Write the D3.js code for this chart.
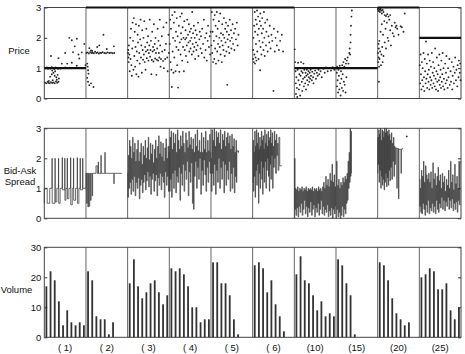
<!DOCTYPE html>
<html>
<head>
<meta charset="utf-8" />
<title>Price, spread and volume by session</title>
<style>
body { margin: 0; background: #fff; }
#graph {
    width: 465px;
    height: 354px;
    font-family: "Liberation Sans", Arial, sans-serif;
}
.tick line { stroke: #333; }
.tick text { font-size: 9.5px; fill: #111; }
.frame { fill: none; stroke: #444; stroke-width: 1; }
.divider { stroke: #666; stroke-width: 1; }
.label { font-size: 9.5px; fill: #111; }
</style>
</head>
<body>
<div id="graph"></div>
<script src="https://cdnjs.cloudflare.com/ajax/libs/d3/7.8.5/d3.min.js"></script>
<script>
// sessions along the x axis, 10 periods each
var sessions = ["( 1)", "( 2)", "( 3)", "( 4)", "( 5)", "( 6)", "(10)", "(15)", "(20)", "(25)"]
var equilibrium = [1, 3, 3, 3, 3, 3, 1, 1, 3, 2]
var priceTicks = [0, 1, 2, 3]
var spreadTicks = [0, 1, 2, 3]
var volumeTicks = [0, 10, 20, 30]

// volume per period within each session
var volume = [
    [17, 22, 19, 12, 4, 9, 5, 4, 5, 4],
    [22, 19, 7, 6, 6, 1, 5],
    [18, 26, 17, 13, 15, 18, 19, 15, 11, 14],
    [23, 22, 23, 21, 17, 10, 10, 5, 6, 6],
    [25, 25, 18, 18, 14, 6, 1],
    [24, 25, 23, 15, 19, 11, 7, 2],
    [21, 27, 19, 18, 14, 9, 12, 7, 8, 7],
    [26, 24, 18, 14, 1],
    [25, 24, 19, 13, 8, 6, 4, 5],
    [20, 21, 23, 22, 16, 16, 18, 9, 6, 10]
]

// transaction prices [period within session, price]
var prices = [
    [[0.3,1.0],[0.6,1.02],[0.9,0.98],[1.2,1.01],[1.5,0.99],[1.8,1.03],[2.1,1.0],[2.4,0.97],[2.7,1.02],[3.0,1.0],[3.3,0.98],[3.6,1.01],[3.9,0.99],[4.4,1.0],[5.0,1.02],[6.2,1.0],[7.5,1.01],
     [0.2,0.52],[0.5,0.5],[0.8,0.55],[1.0,0.52],[1.3,0.5],[1.6,0.54],[1.9,0.51],[2.2,0.53],[2.5,0.5],[2.8,0.56],[3.1,0.52],[3.4,0.55],[1.1,0.58],[2.0,0.6],
     [1.4,0.72],[1.8,0.8],[2.2,0.85],[2.5,0.75],[2.9,0.7],[3.2,0.78],[1.9,0.92],[2.6,0.9],[3.5,0.66],[3.0,0.62],
     [1.6,1.4],[3.4,1.33],[5.0,1.5],[5.5,1.15],[6.0,2.0],[6.6,1.92],[7.8,1.97],[7.3,1.72],[6.6,1.18],[6.9,1.53],[8.4,1.32],[9.0,1.52],[9.6,1.8],[7.8,1.08],[9.9,1.1],[4.2,1.15],[8.2,1.45]],
    [[0.1,1.5],[0.4,1.52],[0.7,1.48],[1.0,1.53],[1.3,1.5],[1.6,1.51],[1.9,1.49],[2.2,1.54],[2.5,1.5],[2.8,1.52],[3.1,1.48],[3.4,1.51],[3.7,1.5],[4.0,1.53],[4.4,1.5],[4.8,1.49],[5.2,1.52],[5.6,1.5],[6.0,1.51],[6.4,1.49],[6.8,1.5],[1.2,1.58],
     [0.3,1.15],[0.5,0.93],[0.6,0.82],[0.3,0.68],[0.5,0.55],[1.2,0.5],[1.8,0.38],[0.8,0.44],[0.4,1.05],
     [2.7,1.7],[3.2,1.75],[4.2,2.1],[5.0,1.63],[6.7,1.72],[0.8,1.66],[1.5,1.57]],
    [[0.1,1.5],[0.2,1.35],[0.15,1.6],[0.3,1.75],[0.25,1.2],[0.4,1.45],[0.5,0.9],[0.6,2.0],[0.7,1.3],[0.8,2.3],[0.9,1.1],[1.0,0.75],[1.1,1.65],[1.2,2.5],[1.3,1.9],[1.4,0.95],[1.5,2.65],[1.6,1.4],[1.7,2.2],[1.8,1.05],[1.9,1.7],[2.0,2.45],[2.1,0.8],[2.2,1.55],[2.3,1.25],[2.4,2.1],[2.5,1.85],[2.6,0.72],[2.7,2.4],[2.8,1.5],[2.9,1.15],[3.0,1.95],[3.1,2.6],[3.2,1.35],[3.3,1.75],[3.4,0.85],[3.5,2.25],[3.6,1.6],[3.7,1.28],[3.8,2.0],[3.9,1.45],[4.0,2.55],[4.1,1.2],[4.2,1.7],[4.3,0.95],[4.4,1.55],[4.5,2.3],[4.6,1.33],[4.7,1.85],[4.8,1.6],[4.9,2.05],[5.0,1.25],[5.1,1.5],[5.2,1.75],[5.3,2.6],[5.4,1.38],[5.5,1.6],[5.6,1.9],[5.7,0.8],[5.8,1.27],[5.9,2.2],[6.0,1.55],[6.1,1.7],[6.2,1.22],[6.3,2.45],[6.4,1.6],[6.5,1.8],[6.6,1.32],[6.7,2.0],[6.8,1.5],[6.9,0.78],[7.0,1.28],[7.1,1.65],[7.2,2.3],[7.3,1.25],[7.4,1.9],[7.5,1.5],[7.6,1.35],[7.7,2.6],[7.8,1.75],[7.9,1.05],[8.0,1.3],[8.2,2.05],[8.3,1.55],[8.5,1.24],[8.6,2.35],[8.7,1.0],[8.9,1.6],[9.0,1.3],[9.2,1.8],[9.3,2.5],[9.5,1.35],[9.6,0.9],[9.8,2.1],[9.9,1.5]],
    [[0.1,1.8],[0.2,2.6],[0.3,1.2],[0.4,2.3],[0.5,0.95],[0.6,0.38],[0.7,2.75],[0.8,1.55],[0.9,2.0],[1.0,0.85],[1.1,2.5],[1.2,1.35],[1.3,2.85],[1.4,1.9],[1.5,0.9],[1.6,2.2],[1.7,1.7],[1.8,2.65],[1.9,1.1],[2.0,2.05],[2.1,0.36],[2.2,1.6],[2.3,2.4],[2.4,0.88],[2.5,1.85],[2.6,2.7],[2.7,1.45],[2.8,2.15],[2.9,1.95],[3.0,2.8],[3.1,1.25],[3.2,2.35],[3.3,1.7],[3.4,2.0],[3.5,0.9],[3.6,2.55],[3.7,1.6],[3.8,1.95],[3.9,2.25],[4.0,1.4],[4.1,2.0],[4.2,1.75],[4.3,2.6],[4.4,1.2],[4.5,2.1],[4.6,1.85],[4.7,2.45],[4.8,1.55],[4.9,2.2],[5.0,1.9],[5.1,1.65],[5.2,2.3],[5.3,2.0],[5.4,1.45],[5.5,2.85],[5.6,1.8],[5.7,2.15],[5.8,1.55],[5.9,2.4],[6.0,1.7],[6.1,2.0],[6.2,1.3],[6.3,2.25],[6.4,1.85],[6.5,1.6],[6.6,2.1],[6.8,1.75],[6.9,2.5],[7.0,1.4],[7.2,1.95],[7.3,2.2],[7.5,1.65],[7.6,2.05],[7.8,1.5],[7.9,2.3],[8.1,1.8],[8.3,2.6],[8.4,1.35],[8.6,2.0],[8.7,1.6],[8.9,2.15],[9.0,1.25],[9.2,1.9],[9.3,2.4],[9.5,1.7],[9.7,2.05],[9.8,1.45],[9.9,2.2]],
    [[0.1,1.75],[0.2,2.85],[0.3,1.5],[0.4,2.2],[0.5,1.2],[0.6,2.6],[0.7,1.9],[0.8,1.3],[0.9,2.75],[1.0,1.65],[1.1,2.4],[1.2,1.15],[1.3,2.05],[1.4,2.85],[1.5,1.55],[1.6,2.3],[1.7,1.8],[1.8,1.25],[1.9,2.55],[2.0,2.0],[2.1,1.7],[2.2,2.8],[2.3,1.45],[2.4,2.15],[2.5,1.9],[2.6,1.2],[2.7,2.45],[2.8,1.75],[2.9,2.1],[3.0,1.6],[3.1,2.65],[3.2,2.0],[3.3,1.4],[3.4,2.3],[3.5,1.85],[3.6,2.5],[3.7,1.55],[3.8,2.2],[3.9,0.45],[4.0,1.95],[4.1,2.4],[4.2,1.7],[4.3,2.1],[4.4,1.5],[4.5,2.6],[4.6,1.9],[4.8,2.25],[4.9,1.65],[5.0,2.0],[5.2,2.45],[5.3,1.8],[5.5,2.15],[5.6,1.6],[5.8,2.3],[6.0,1.95],[6.2,2.5],[6.4,1.75],[6.6,2.1]],
    [[0.1,1.3],[0.15,1.6],[0.2,2.0],[0.3,1.2],[0.35,2.4],[0.4,1.45],[0.5,2.85],[0.55,1.15],[0.6,2.2],[0.7,1.35],[0.75,2.6],[0.8,1.8],[0.9,1.25],[1.0,2.45],[1.05,2.9],[1.1,1.55],[1.2,2.1],[1.3,2.7],[1.4,1.3],[1.5,2.3],[1.6,1.9],[1.7,2.55],[1.8,0.93],[1.85,2.8],[1.9,1.7],[2.0,2.4],[2.1,1.45],[2.2,2.15],[2.3,2.65],[2.4,1.85],[2.5,2.3],[2.6,1.6],[2.7,2.85],[2.8,2.0],[2.9,1.4],[3.0,2.5],[3.2,1.75],[3.3,2.2],[3.5,2.6],[3.6,1.55],[3.8,2.05],[4.0,1.85],[4.1,2.4],[4.3,1.65],[4.5,2.1],[4.7,1.9],[5.0,0.25],[5.1,2.3],[5.3,1.55],[5.5,2.0],[5.8,1.75],[6.0,2.2],[6.3,1.6],[6.6,1.9],[7.0,2.1],[7.3,1.55]],
    [[0.1,1.62],[0.2,1.2],[0.3,0.9],[0.35,0.5],[0.4,0.15],[0.5,0.7],[0.6,0.35],[0.7,0.05],[0.8,0.95],[0.9,1.18],[1.0,0.6],[1.1,0.3],[1.2,0.8],[1.3,0.45],[1.4,0.1],[1.5,0.75],[1.6,1.2],[1.7,0.9],[1.8,0.55],[1.9,0.25],[2.0,0.85],[2.1,0.65],[2.2,1.15],[2.3,0.4],[2.4,0.95],[2.5,0.7],[2.6,0.5],[2.7,0.85],[2.8,0.3],[2.9,0.75],[3.0,0.95],[3.1,0.6],[3.2,0.8],[3.3,0.45],[3.4,0.9],[3.5,0.7],[3.6,0.55],[3.7,0.85],[3.8,0.65],[3.9,0.95],[4.0,0.75],[4.2,0.6],[4.3,0.88],[4.5,0.7],[4.6,0.5],[4.8,0.82],[5.0,0.92],[5.2,0.65],[5.4,0.85],[5.6,0.75],[5.8,0.95],[6.0,0.8],[6.3,0.9],[6.6,0.7],[7.0,0.98],[7.3,0.85],[7.6,1.02],[8.0,0.9],[8.4,1.0],[8.8,0.92],[9.2,1.03],[9.6,0.95],[9.9,1.0]],
    [[0.1,1.0],[0.2,0.85],[0.25,0.4],[0.3,1.05],[0.4,0.6],[0.5,0.2],[0.6,0.95],[0.7,0.75],[0.8,0.3],[0.9,1.08],[1.0,0.5],[1.1,0.1],[1.2,0.9],[1.3,0.65],[1.4,0.35],[1.5,1.1],[1.6,0.8],[1.7,0.25],[1.8,1.2],[1.9,0.55],[2.0,1.05],[2.1,0.45],[2.2,1.3],[2.3,0.2],[2.4,1.15],[2.5,0.7],[2.6,1.25],[2.7,1.0],[2.8,1.35],[3.0,1.15],[3.2,1.5],[3.3,1.65],[3.4,1.45],[3.5,1.85],[3.5,2.1],[3.6,2.4],[3.7,2.7],[3.8,2.9]],
    [[0.05,2.95],[0.15,2.9],[0.25,2.97],[0.35,2.88],[0.45,2.93],[0.55,2.85],[0.7,2.95],[0.85,2.9],[1.0,2.8],[1.2,2.92],[1.4,2.85],[1.7,2.75],[2.0,2.72],[2.3,2.78],[2.6,2.7],[3.0,2.75],[0.1,1.5],[0.15,1.2],[0.2,1.8],[0.25,1.35],[0.3,1.65],[0.35,1.05],[0.4,1.9],[0.45,1.3],[0.3,0.55],[0.6,1.55],[0.7,2.2],[0.8,1.1],[0.9,1.45],[1.0,2.45],[1.1,1.7],[1.2,1.2],[1.3,2.1],[1.4,1.4],[1.6,2.55],[1.7,1.85],[1.9,2.3],[2.0,1.65],[2.2,2.5],[2.4,2.0],[2.6,1.9],[2.8,2.6],[3.0,2.25],[3.2,1.75],[3.4,2.4],[3.6,2.15],[3.9,2.05],[4.1,2.5],[4.3,2.35],[4.5,2.4],[4.7,2.3],[5.0,2.1],[5.5,2.38],[5.8,2.35],[6.2,2.2],[6.5,2.8]],
    [[0.1,1.1],[0.2,0.5],[0.3,1.45],[0.4,0.8],[0.5,0.3],[0.6,1.2],[0.7,0.6],[0.8,1.0],[0.9,0.4],[1.0,1.5],[1.1,0.7],[1.2,0.25],[1.3,1.3],[1.4,0.9],[1.5,0.5],[1.6,1.88],[1.7,0.65],[1.8,1.15],[1.9,0.35],[2.0,0.8],[2.1,1.45],[2.2,0.55],[2.3,0.95],[2.4,0.3],[2.5,1.25],[2.6,0.7],[2.7,0.45],[2.8,1.05],[2.9,0.6],[3.0,1.5],[3.1,0.35],[3.2,0.85],[3.3,1.2],[3.4,0.5],[3.5,0.75],[3.6,1.0],[3.7,0.4],[3.8,1.65],[3.9,0.65],[4.0,0.3],[4.1,0.9],[4.2,1.35],[4.3,0.55],[4.4,0.8],[4.5,0.25],[4.6,1.1],[4.7,0.6],[4.8,1.45],[4.9,0.45],[5.0,0.7],[5.1,0.95],[5.2,0.35],[5.3,1.25],[5.4,0.55],[5.5,0.8],[5.6,1.5],[5.7,0.4],[5.8,1.0],[5.9,0.65],[6.0,0.3],[6.2,1.15],[6.3,0.5],[6.4,0.85],[6.5,1.4],[6.6,0.6],[6.8,0.35],[6.9,1.0],[7.0,0.7],[7.2,1.3],[7.3,0.45],[7.5,0.9],[7.6,0.55],[7.8,1.2],[7.9,0.3],[8.0,0.75],[8.2,1.05],[8.3,0.5],[8.5,0.85],[8.6,1.35],[8.8,0.6],[8.9,0.95],[9.1,0.4],[9.2,1.1],[9.4,0.7],[9.5,1.25],[9.7,0.85],[9.8,1.15],[9.9,0.6]]
]

// bid-ask quote path [period within session, value]
var spreads = [
    [[0,0.5],[0,1.0],[0.7,1.0],[0.7,0.5],[1.3,0.5],[1.3,1.0],[1.85,1.0],[1.85,2.0],[1.9,2.0],[1.9,0.5],[2.57,0.5],[2.57,2.0],[2.62,2.0],[2.62,0.55],[3.0,0.55],[3.0,1.0],[3.4,1.0],[3.4,2.0],[3.45,2.0],[3.45,0.5],[3.8,0.5],[3.8,1.0],[4.3,1.0],[4.3,2.02],[4.35,2.02],[4.35,0.95],[4.9,0.95],[4.9,2.0],[4.95,2.0],[4.95,0.6],[5.2,0.6],[5.2,1.0],[5.5,1.0],[5.5,2.0],[5.55,2.0],[5.55,0.65],[5.9,0.65],[5.9,1.0],[6.3,1.0],[6.3,2.02],[6.35,2.02],[6.35,0.45],[6.7,0.45],[6.7,1.0],[7.0,1.0],[7.0,2.0],[7.05,2.0],[7.05,0.6],[7.5,0.6],[7.5,1.0],[7.9,1.0],[7.9,2.02],[7.95,2.02],[7.95,0.5],[8.3,0.5],[8.3,1.0],[8.6,1.0],[8.6,2.0],[8.65,2.0],[8.65,0.95],[9.2,0.95],[9.2,2.0],[9.25,2.0],[9.25,1.0],[10,1.0]],
    [[0.0,1.0],[0.0,1.5],[0.15,1.5],[0.15,0.5],[0.3,0.5],[0.3,1.5],[0.45,1.5],[0.45,0.38],[0.6,0.38],[0.6,1.5],[0.75,1.5],[0.75,0.4],[0.9,0.4],[0.9,1.5],[1.1,1.5],[1.1,0.6],[1.25,0.6],[1.25,1.5],[1.5,1.5],[1.5,0.75],[1.6,0.75],[1.6,1.5],[2.4,1.5],[2.4,1.75],[2.7,1.75],[2.7,1.5],[2.95,1.5],[2.95,1.88],[3.0,1.88],[3.0,1.5],[3.6,1.5],[3.6,2.1],[3.65,2.1],[3.65,1.5],[4.55,1.5],[4.55,2.2],[4.6,2.2],[4.6,1.5],[6.7,1.5],[6.7,1.15],[6.75,1.15],[6.75,1.5],[8.6,1.5]],
    [[0.0,1.5],[0.05,0.7],[0.2,2.1],[0.3,1.0],[0.45,2.6],[0.55,1.2],[0.7,2.4],[0.8,0.8],[0.95,2.0],[1.05,1.3],[1.2,2.7],[1.3,0.9],[1.45,2.2],[1.55,1.4],[1.7,2.5],[1.8,0.75],[1.95,1.9],[2.05,1.2],[2.2,2.3],[2.3,1.0],[2.45,2.6],[2.55,1.35],[2.7,1.9],[2.8,0.65],[2.95,2.2],[3.05,1.1],[3.2,2.5],[3.3,1.3],[3.45,1.8],[3.55,0.85],[3.7,2.4],[3.8,1.2],[3.95,2.1],[4.05,1.45],[4.2,2.6],[4.3,0.95],[4.45,2.0],[4.55,1.25],[4.7,2.35],[4.8,1.55],[4.95,2.7],[5.05,1.05],[5.2,1.95],[5.3,1.4],[5.45,2.5],[5.55,0.8],[5.7,2.15],[5.8,1.3],[5.95,2.45],[6.05,1.5],[6.2,1.85],[6.3,0.9],[6.45,2.3],[6.55,1.25],[6.7,2.6],[6.8,1.45],[6.95,2.0],[7.05,0.75],[7.2,2.4],[7.3,1.35],[7.45,2.75],[7.55,1.1],[7.7,2.15],[7.8,1.5],[7.95,2.55],[8.05,0.95],[8.2,2.05],[8.3,1.4],[8.45,2.5],[8.55,1.2],[8.7,1.9],[8.8,0.7],[8.95,2.35],[9.05,1.55],[9.2,2.65],[9.3,1.1],[9.45,2.0],[9.55,1.4],[9.7,2.4],[9.8,0.9],[9.95,2.2]],
    [[0.0,2.4],[0.1,0.9],[0.2,2.7],[0.3,1.3],[0.45,2.9],[0.55,0.7],[0.7,2.3],[0.8,1.5],[0.95,2.85],[1.05,1.0],[1.2,2.5],[1.3,1.6],[1.45,2.8],[1.55,0.85],[1.7,2.2],[1.8,1.4],[1.95,2.95],[2.05,1.2],[2.2,2.6],[2.3,1.7],[2.45,2.3],[2.55,0.6],[2.7,2.75],[2.8,1.5],[2.95,2.4],[3.05,1.1],[3.2,2.9],[3.3,1.8],[3.45,2.5],[3.55,0.9],[3.7,2.2],[3.8,1.6],[3.95,2.85],[4.05,1.3],[4.2,2.6],[4.3,1.9],[4.45,2.35],[4.55,0.75],[4.7,2.9],[4.8,1.55],[4.95,2.45],[5.05,1.2],[5.2,2.7],[5.3,1.85],[5.45,2.3],[5.55,0.5],[5.7,2.65],[5.8,0.3],[5.95,2.2],[6.05,1.4],[6.2,2.8],[6.3,1.9],[6.45,2.4],[6.55,1.0],[6.7,2.95],[6.8,1.7],[6.95,2.25],[7.05,1.3],[7.2,2.6],[7.3,2.0],[7.45,2.2],[7.55,0.8],[7.7,2.85],[7.8,1.6],[7.95,2.2],[8.05,1.1],[8.2,2.7],[8.3,1.95],[8.45,2.3],[8.55,1.45],[8.7,2.9],[8.8,0.9],[8.95,2.2],[9.05,1.7],[9.2,2.6],[9.3,1.2],[9.45,2.25],[9.55,1.9],[9.7,2.8],[9.8,1.5],[9.95,2.2]],
    [[0.0,2.0],[0.1,0.9],[0.25,2.95],[0.35,1.5],[0.5,2.6],[0.6,1.1],[0.75,3.0],[0.85,1.8],[1.0,2.4],[1.1,0.8],[1.25,2.9],[1.35,1.6],[1.5,2.7],[1.6,1.2],[1.75,2.85],[1.85,2.0],[2.0,2.5],[2.1,1.0],[2.25,2.95],[2.35,1.7],[2.5,2.3],[2.6,1.3],[2.75,2.8],[2.85,1.9],[3.0,2.6],[3.1,0.85],[3.25,2.9],[3.35,1.8],[3.5,2.4],[3.6,1.1],[3.75,2.7],[3.85,1.6],[4.0,2.85],[4.1,1.3],[4.25,2.5],[4.35,1.9],[4.5,2.75],[4.6,0.9],[4.75,2.3],[4.85,1.5],[5.0,2.8],[5.1,1.0],[5.25,2.4],[5.35,1.7],[5.5,2.65],[5.6,0.85],[5.75,2.2],[5.85,1.4],[6.0,2.6],[6.1,1.2],[6.2,2.25],[6.5,2.2],[6.6,2.25]],
    [[0.0,1.2],[0.1,2.6],[0.2,0.9],[0.3,2.2],[0.4,1.4],[0.5,2.9],[0.6,0.7],[0.7,2.4],[0.8,1.6],[0.9,2.95],[1.0,1.1],[1.1,2.5],[1.2,1.8],[1.3,2.85],[1.4,0.5],[1.5,2.3],[1.6,1.5],[1.7,2.7],[1.8,1.0],[1.9,2.4],[2.0,1.9],[2.1,2.9],[2.2,1.3],[2.3,2.6],[2.4,0.8],[2.5,2.75],[2.6,1.7],[2.7,2.3],[2.8,1.2],[2.9,2.95],[3.0,1.9],[3.1,2.5],[3.2,1.0],[3.3,2.8],[3.4,1.6],[3.5,2.4],[3.6,2.0],[3.7,2.9],[3.8,1.4],[3.9,2.6],[4.0,0.9],[4.1,2.7],[4.2,1.8],[4.3,2.95],[4.4,1.3],[4.5,2.5],[4.6,2.1],[4.7,2.85],[4.8,1.0],[4.9,2.4],[5.0,1.7],[5.2,2.9],[5.3,2.0],[5.4,2.6],[5.5,1.5],[5.7,2.8],[5.8,2.1],[6.0,2.5],[6.1,1.6],[6.3,2.7],[6.5,1.75],[7.0,1.75]],
    [[0.05,0.0],[0.1,2.0],[0.15,0.3],[0.3,1.0],[0.4,0.1],[0.55,0.95],[0.65,0.35],[0.8,1.05],[0.9,0.05],[1.05,0.9],[1.15,0.4],[1.3,1.0],[1.4,0.2],[1.55,0.95],[1.65,0.5],[1.8,1.05],[1.9,0.1],[2.05,0.9],[2.15,0.3],[2.3,1.0],[2.4,0.6],[2.55,0.95],[2.65,0.15],[2.8,1.05],[2.9,0.4],[3.05,0.9],[3.15,0.05],[3.3,1.0],[3.4,0.35],[3.55,0.95],[3.65,0.2],[3.8,1.0],[3.9,0.55],[4.05,0.95],[4.15,0.1],[4.3,1.05],[4.4,0.3],[4.55,0.9],[4.65,0.45],[4.8,1.0],[4.9,0.05],[5.05,0.95],[5.15,0.35],[5.3,1.0],[5.4,0.2],[5.55,0.9],[5.65,0.5],[5.8,1.05],[5.9,0.1],[6.05,0.95],[6.15,0.3],[6.3,1.0],[6.4,0.6],[6.55,0.9],[6.65,0.15],[6.8,1.05],[6.9,0.4],[7.05,1.2],[7.15,0.1],[7.3,1.0],[7.4,0.3],[7.55,1.4],[7.65,0.2],[7.8,1.1],[7.9,0.45],[8.05,1.3],[8.15,0.05],[8.3,1.05],[8.4,0.25],[8.55,1.5],[8.65,0.1],[8.8,1.25],[8.9,0.35],[9.05,1.8],[9.15,0.0],[9.3,1.2],[9.4,0.3],[9.55,1.45],[9.65,0.15],[9.8,1.05],[9.9,0.4]],
    [[0.1,0.0],[0.15,1.9],[0.25,0.3],[0.4,1.1],[0.5,0.05],[0.65,1.3],[0.75,0.2],[0.9,1.0],[1.0,0.0],[1.15,1.2],[1.25,0.1],[1.4,1.1],[1.5,0.4],[1.65,1.35],[1.75,0.05],[1.9,1.2],[2.0,0.3],[2.15,1.4],[2.25,0.15],[2.4,1.3],[2.5,0.5],[2.65,1.5],[2.75,0.6],[2.9,1.9],[3.0,1.0],[3.15,2.2],[3.25,1.2],[3.4,3.0],[3.5,1.4],[3.6,2.9],[3.7,1.5]],
    [[0.0,1.5],[0.05,2.7],[0.15,1.8],[0.25,2.95],[0.35,1.2],[0.45,2.8],[0.55,1.6],[0.65,3.0],[0.75,1.0],[0.85,2.6],[0.95,1.4],[1.05,2.95],[1.15,1.1],[1.25,2.9],[1.35,1.3],[1.45,2.7],[1.55,0.95],[1.65,3.0],[1.75,1.2],[1.85,2.85],[1.95,1.5],[2.05,3.0],[2.15,1.05],[2.25,2.9],[2.35,1.35],[2.45,2.75],[2.55,1.1],[2.65,2.95],[2.75,1.6],[2.85,2.8],[2.95,1.25],[3.05,2.6],[3.15,1.7],[3.3,2.85],[3.4,1.3],[3.55,2.5],[3.65,1.9],[3.8,2.7],[3.9,1.4],[4.05,2.4],[4.15,1.8],[4.3,2.35],[4.5,2.33],[4.6,1.0],[4.7,2.33],[4.9,2.33],[5.0,0.65],[5.1,2.3],[5.5,2.3],[5.6,1.5],[5.7,2.3],[5.9,2.35]],
    [[0.05,1.3],[0.15,0.4],[0.25,1.0],[0.35,0.2],[0.5,1.6],[0.6,0.15],[0.75,1.4],[0.85,0.5],[1.0,1.9],[1.1,0.3],[1.25,1.2],[1.35,0.1],[1.5,1.75],[1.6,0.45],[1.75,1.45],[1.85,0.2],[2.0,1.3],[2.1,0.6],[2.25,1.5],[2.35,0.15],[2.5,1.2],[2.6,0.35],[2.75,1.55],[2.85,0.25],[3.0,1.0],[3.1,0.5],[3.25,1.85],[3.35,0.2],[3.5,1.3],[3.6,0.4],[3.75,1.5],[3.85,0.15],[4.0,1.1],[4.1,0.6],[4.25,1.4],[4.35,0.3],[4.5,1.7],[4.6,0.2],[4.75,1.25],[4.85,0.5],[5.0,1.45],[5.1,0.35],[5.25,1.0],[5.35,0.7],[5.5,1.5],[5.6,0.3],[5.75,1.2],[5.85,0.6],[6.0,1.4],[6.1,0.25],[6.25,0.9],[6.35,0.55],[6.5,1.3],[6.6,0.4],[6.75,1.1],[6.85,0.7],[7.0,1.6],[7.1,0.3],[7.25,1.0],[7.35,0.6],[7.5,1.9],[7.6,0.35],[7.75,1.2],[7.85,0.65],[8.0,1.45],[8.1,0.25],[8.25,0.95],[8.35,0.5],[8.5,1.8],[8.6,0.3],[8.75,1.15],[8.85,0.55],[9.0,1.4],[9.1,0.2],[9.25,1.0],[9.35,0.6],[9.5,1.9],[9.6,0.45],[9.75,1.85],[9.9,1.9]]
]
// isolated quote: [session index, period, value]
var spreadMarks = [[8, 7.0, 2.73]]

!(function(){
    "use strict"

    var width = 465, height = 354
    var left = 44.3, right = 461
    var svg = d3.select("#graph").append("svg").attr("width", width).attr("height", height)

    var x = d3.scaleLinear().domain([0, sessions.length * 10]).range([left, right])

    var panels = [
        { key: "price", top: 7.5, bottom: 98.5, max: 3, ticks: priceTicks, label: ["Price"], labelX: 19, labelY: [54] },
        { key: "spread", top: 128.3, bottom: 218.3, max: 3, ticks: spreadTicks, label: ["Bid-Ask", "Spread"], labelX: 20, labelY: [174, 185] },
        { key: "volume", top: 247.3, bottom: 337.3, max: 30, ticks: volumeTicks, label: ["Volume"], labelX: 16.5, labelY: [293] }
    ]

    panels.forEach(function(p){
        p.y = d3.scaleLinear().domain([0, p.max]).range([p.bottom, p.top])
        var g = svg.append("g").attr("class", "panel " + p.key)
        p.g = g

        // session dividers
        g.selectAll(".divider").data(d3.range(1, sessions.length)).enter().append("line")
            .attr("class", "divider")
            .attr("x1", function(d){ return x(d * 10) }).attr("x2", function(d){ return x(d * 10) })
            .attr("y1", p.top).attr("y2", p.bottom)

        g.append("g").attr("transform", "translate(" + [left, 0] + ")")
            .call(d3.axisLeft(p.y).tickValues(p.ticks).tickFormat(d3.format("d")).tickSize(-3).tickPadding(3))
            .call(function(a){ a.select(".domain").remove() })
        g.append("g").attr("transform", "translate(" + [right, 0] + ")")
            .call(d3.axisRight(p.y).tickValues(p.ticks).tickSize(-3).tickFormat(""))
            .call(function(a){ a.select(".domain").remove() })

        g.append("rect").attr("class", "frame")
            .attr("x", left).attr("y", p.top)
            .attr("width", right - left).attr("height", p.bottom - p.top)

        var t = g.append("text").attr("class", "label").attr("text-anchor", "middle")
        p.label.forEach(function(s, i){
            t.append("tspan").attr("x", p.labelX).attr("y", p.labelY[i]).text(s)
        })
    })

    var price = panels[0], spread = panels[1], vol = panels[2]

    // price dots
    prices.forEach(function(pts, s){
        price.g.append("g").selectAll("circle").data(pts).enter().append("circle")
            .attr("cx", function(d){ return x(s * 10 + d[0]) })
            .attr("cy", function(d){ return price.y(d[1]) })
            .attr("r", 0.95)
            .attr("fill", "#2a2a2a")
    })
    // equilibrium lines
    price.g.selectAll(".eq").data(equilibrium).enter().append("line")
        .attr("class", "eq")
        .attr("x1", function(d, i){ return x(i * 10) })
        .attr("x2", function(d, i){ return x(i * 10 + 10) })
        .attr("y1", function(d){ return price.y(d) })
        .attr("y2", function(d){ return price.y(d) })
        .attr("stroke", "#111").attr("stroke-width", 2.2)

    // bid-ask paths, drawn as steps so the quotes read as vertical strokes
    spreads.forEach(function(pts, s){
        var line = d3.line()
            .curve(d3.curveStepAfter)
            .x(function(d){ return x(s * 10 + d[0]) })
            .y(function(d){ return spread.y(d[1]) })
        spread.g.append("path").attr("d", line(pts))
            .attr("fill", "none").attr("stroke", "#333").attr("stroke-width", 0.9).attr("stroke-opacity", 0.8)
    })
    spread.g.selectAll(".mark").data(spreadMarks).enter().append("circle")
        .attr("cx", function(d){ return x(d[0] * 10 + d[1]) })
        .attr("cy", function(d){ return spread.y(d[2]) })
        .attr("r", 0.9).attr("fill", "#333")

    // volume bars
    volume.forEach(function(vals, s){
        vol.g.append("g").selectAll("rect").data(vals).enter().append("rect")
            .attr("x", function(d, i){ return x(s * 10 + i + 0.5) - 0.9 })
            .attr("y", function(d){ return vol.y(d) })
            .attr("width", 1.8)
            .attr("height", function(d){ return vol.y(0) - vol.y(d) })
            .attr("fill", "#333")
    })

    // session labels
    svg.append("g").selectAll("text").data(sessions).enter().append("text")
        .attr("class", "label")
        .attr("text-anchor", "middle")
        .attr("x", function(d, i){ return x(i * 10 + 5) })
        .attr("y", 350.5)
        .text(function(d){ return d })
}())
</script>
</body>
</html>
